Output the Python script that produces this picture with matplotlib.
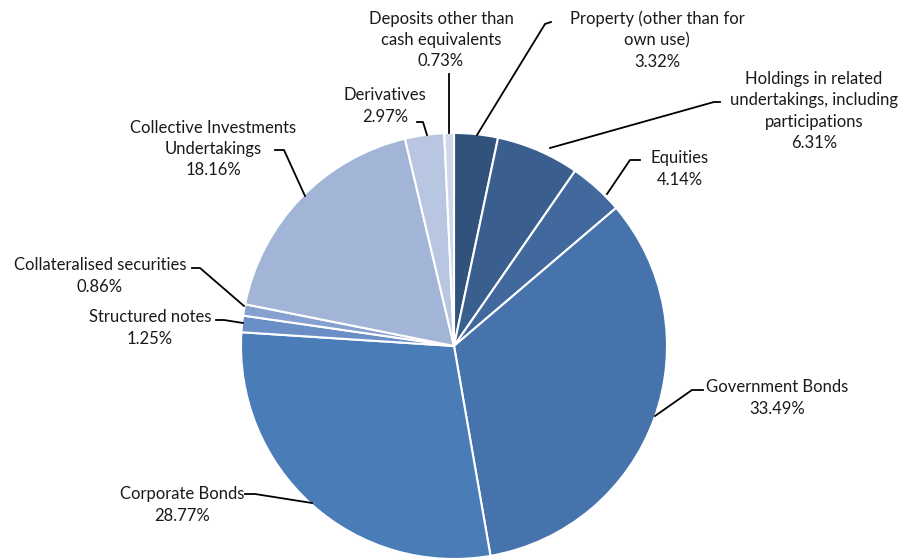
import matplotlib.pyplot as plt

H = 559

labels = ['Property (other than for\nown use)', 'Holdings in related\nundertakings, including\nparticipations',
          'Equities', 'Government Bonds', 'Corporate Bonds', 'Structured notes',
          'Collateralised securities', 'Collective Investments\nUndertakings', 'Derivatives',
          'Deposits other than\ncash equivalents']
shares = [3.32, 6.31, 4.14, 33.49, 28.77, 1.25, 0.86, 18.16, 2.97, 0.73]
colors = ['#30527b', '#3a5f8e', '#41699e', '#4673ac', '#4a7cb8', '#6a8fc6',
          '#86a1d0', '#a3b5d7', '#b8c6e1', '#cfd8eb']

# label text centre (pixel coords, top-left origin) and leader line points
label_pos = [(657, 40), (814, 111), (680, 169), (777, 398), (182, 505),
             (150, 328), (100, 276), (213, 149), (385, 106), (441, 40)]
leaders = [
    [(551, 22), (545, 24), (477, 135)],
    [(720, 102), (714, 102), (550, 148)],
    [(640, 160), (630, 160), (607, 194)],
    [(703, 390), (692, 390), (655, 416)],
    [(245, 494), (255, 494), (312, 503)],
    [(216, 320), (224, 320), (243, 323)],
    [(192, 268), (200, 268), (244, 306)],
    [(275, 150), (284, 150), (305, 196)],
    [(417, 122), (423, 122), (427, 135)],
    [(449, 74), (449, 80), (449, 133)],
]

fig = plt.figure(figsize=(9.03, 5.59), dpi=100)
ax = fig.add_axes([0, 0, 1, 1])

ax.pie(shares, colors=colors, startangle=90, counterclock=False,
       center=(454, H - 346), radius=213, frame=True,
       wedgeprops=dict(edgecolor='white', linewidth=1.5))
ax.set_xlim(0, 903)
ax.set_ylim(0, H)
ax.set_aspect('equal')
ax.axis('off')

for lab, val, (x, y), pts in zip(labels, shares, label_pos, leaders):
    ax.text(x, H - y, '%s\n%.2f%%' % (lab, val), ha='center', va='center',
            fontsize=12, family=['Lato', 'DejaVu Sans'], color='#1a1a1a',
            linespacing=1.42)
    ax.plot([p[0] for p in pts], [H - p[1] for p in pts], color='black', lw=1.3)

fig.savefig('out.png', dpi=100)
